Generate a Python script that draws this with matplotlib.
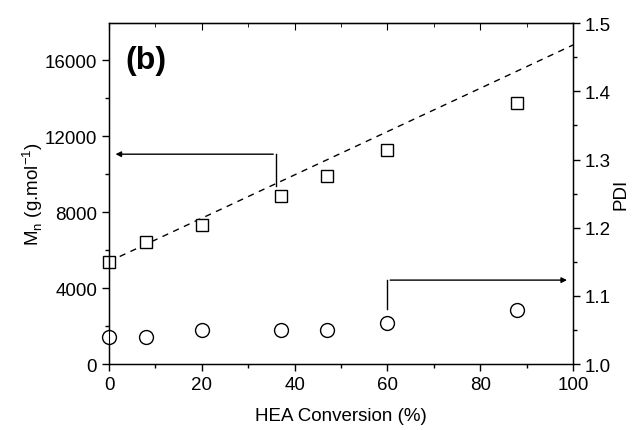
import numpy as np
import matplotlib
matplotlib.use('Agg')
import matplotlib.pyplot as plt
from matplotlib.ticker import MultipleLocator

plt.rcParams['font.family'] = ['Liberation Sans', 'DejaVu Sans']
plt.rcParams['font.size'] = 13.5

# data
conv = [0, 8, 20, 37, 47, 60, 88]
mn = [5350, 6450, 7300, 8850, 9900, 11250, 13750]
pdi = [1.04, 1.04, 1.05, 1.05, 1.05, 1.06, 1.08]

# theoretical Mn line
theo_x = [0, 100]
theo_mn = [5400, 16800]

fig = plt.figure(figsize=(6.36, 4.31), dpi=100)
ax = fig.add_axes([0.1714, 0.153, 0.7296, 0.791])
ax2 = ax.twinx()

ax.plot(theo_x, theo_mn, ls=(0, (4.5, 4)), c='k', lw=1)
ax.plot(conv, mn, ls='none', marker='s', ms=9, mfc='white', mec='k', mew=1, clip_on=False)
ax2.plot(conv, pdi, ls='none', marker='o', ms=10, mfc='white', mec='k', mew=1, clip_on=False)

ax.set_xlim(0, 100)
ax.set_ylim(0, 17950)
ax2.set_ylim(1.0, 1.5)

ax.xaxis.set_major_locator(MultipleLocator(20))
ax.xaxis.set_minor_locator(MultipleLocator(10))
ax.yaxis.set_major_locator(MultipleLocator(4000))
ax.yaxis.set_minor_locator(MultipleLocator(2000))
ax2.yaxis.set_major_locator(MultipleLocator(0.1))
ax2.yaxis.set_minor_locator(MultipleLocator(0.05))

ax.tick_params(which='major', length=5, width=1, direction='out')
ax.tick_params(which='minor', length=3, width=1, direction='out')
ax2.tick_params(which='major', length=5, width=1, direction='out')
ax2.tick_params(which='minor', length=3, width=1, direction='out')
top = ax.secondary_xaxis('top')
top.xaxis.set_major_locator(MultipleLocator(20))
top.xaxis.set_minor_locator(MultipleLocator(10))
top.tick_params(which='major', direction='in', length=5, labeltop=False)
top.tick_params(which='minor', direction='in', length=3)

ax.set_xlabel('HEA Conversion (%)', labelpad=10)
ax.set_ylabel('M$_\\mathregular{n}$ (g.mol$^\\mathregular{-1}$)', labelpad=0)
ax2.set_ylabel('PDI', labelpad=1)
ax2.yaxis.set_ticks_position('right')
for sp in ax.spines.values():
    sp.set_linewidth(1)

# arrows pointing to the axes
ax.plot([36, 36], [9370, 11050], c='k', lw=1)
ax.annotate('', xy=(0.8, 11050), xytext=(36, 11050),
            arrowprops=dict(arrowstyle='-|>', color='k', lw=1, mutation_scale=8))
ax.plot([60, 60], [2900, 4420], c='k', lw=1)
ax.annotate('', xy=(99.3, 4420), xytext=(60, 4420),
            arrowprops=dict(arrowstyle='-|>', color='k', lw=1, mutation_scale=8))

ax.text(3.5, 16000, '(b)', fontsize=23, fontweight='bold', va='center')

fig.savefig('out.png', dpi=100)
